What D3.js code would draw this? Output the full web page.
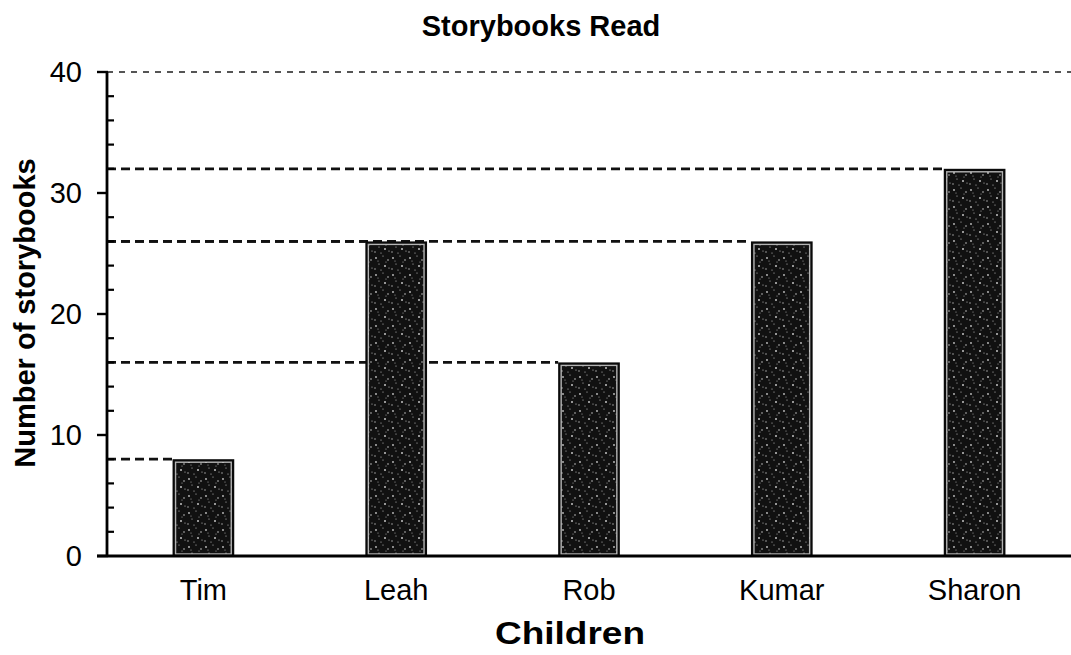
<!DOCTYPE html>
<html>
<head>
<meta charset="utf-8">
<script src="https://cdn.jsdelivr.net/npm/d3@7"></script>
<style>
  html, body { margin: 0; padding: 0; background: #fff; }
  svg { display: block; font-family: "Liberation Sans", Arial, sans-serif; }
</style>
</head>
<body>
<svg id="chart" width="1071" height="655"></svg>
<script>
// ---- data ----
const categories = ["Tim", "Leah", "Rob", "Kumar", "Sharon"];
const values = [8, 26, 16, 26, 32];
const yTicks = [0, 10, 20, 30, 40];
const yMinorTicks = [2, 4, 6, 8, 12, 14, 16, 18, 22, 24, 26, 28, 32, 34, 36, 38];
const titleText = "Storybooks Read";
const xTitle = "Children";
const yTitle = "Number of storybooks";

// ---- layout ----
const svg = d3.select("#chart");
const axisX = 107, axisY0 = 556, axisYTop = 72, rightEdge = 1071;

const x = d3.scaleBand().domain(categories).range([axisX, rightEdge]).padding(0);
const y = d3.scaleLinear().domain([0, 40]).range([axisY0, axisYTop]);
const barW = x.bandwidth() * 0.32;

// speckle pattern
const defs = svg.append("defs");
const pat = defs.append("pattern").attr("id", "speckle")
  .attr("patternUnits", "userSpaceOnUse").attr("width", 17).attr("height", 17);
pat.append("rect").attr("width", 17).attr("height", 17).attr("fill", "#111");
const dots = [[2,3,0.9],[9,1,0.6],[14,5,0.8],[5,9,0.6],[11,11,1.0],[1,14,0.7],[7,15,0.6],[15,13,0.6],[12,7,0.5],[4,6,0.5]];
pat.selectAll("circle").data(dots).join("circle")
  .attr("cx", d => d[0]).attr("cy", d => d[1]).attr("r", d => d[2])
  .attr("fill", "#fff").attr("opacity", 0.75);

// top gridline at 40 (faint, dotted)
svg.append("line")
  .attr("x1", axisX).attr("x2", rightEdge)
  .attr("y1", y(40)).attr("y2", y(40))
  .attr("stroke", "#555").attr("stroke-width", 1.8)
  .attr("stroke-dasharray", "6,6");

// reference dashed lines from axis to each bar's left edge (behind bars)
svg.append("g").selectAll("line").data(categories).join("line")
  .attr("x1", axisX)
  .attr("x2", (d) => x(d) + x.bandwidth() / 2 - barW / 2)
  .attr("y1", (d, i) => y(values[i]))
  .attr("y2", (d, i) => y(values[i]))
  .attr("stroke", "#111").attr("stroke-width", 2.8)
  .attr("stroke-dasharray", "9,5");

// bars
const bars = svg.append("g").selectAll("g").data(categories).join("g");
bars.append("rect")
  .attr("x", d => x(d) + x.bandwidth() / 2 - barW / 2)
  .attr("y", (d, i) => y(values[i]))
  .attr("width", barW)
  .attr("height", (d, i) => y(0) - y(values[i]))
  .attr("fill", "#0a0a0a");
bars.append("rect")
  .attr("x", d => x(d) + x.bandwidth() / 2 - barW / 2 + 3)
  .attr("y", (d, i) => y(values[i]) + 3)
  .attr("width", barW - 6)
  .attr("height", (d, i) => Math.max(0, y(0) - y(values[i]) - 5))
  .attr("fill", "url(#speckle)")
  .attr("stroke", "#ddd").attr("stroke-width", 1.4).attr("stroke-opacity", 0.8);

// y axis line
svg.append("line")
  .attr("x1", axisX).attr("x2", axisX)
  .attr("y1", y(40)).attr("y2", y(0))
  .attr("stroke", "#000").attr("stroke-width", 2.8);

// major ticks (outward)
svg.append("g").selectAll("line").data(yTicks).join("line")
  .attr("x1", axisX - 10).attr("x2", axisX + 1)
  .attr("y1", d => y(d)).attr("y2", d => y(d))
  .attr("stroke", "#000").attr("stroke-width", 2.4);
// minor ticks (inward)
svg.append("g").selectAll("line").data(yMinorTicks).join("line")
  .attr("x1", axisX).attr("x2", axisX + 7)
  .attr("y1", d => y(d)).attr("y2", d => y(d))
  .attr("stroke", "#000").attr("stroke-width", 2.2);

// y tick labels
svg.append("g").selectAll("text").data(yTicks).join("text")
  .attr("x", 82).attr("y", d => y(d))
  .attr("dy", "0.36em")
  .attr("text-anchor", "end")
  .attr("font-size", 29)
  .attr("fill", "#000")
  .text(d => d);

// x axis line
svg.append("line")
  .attr("x1", axisX - 10).attr("x2", rightEdge)
  .attr("y1", y(0)).attr("y2", y(0))
  .attr("stroke", "#000").attr("stroke-width", 2.8);

// category labels
svg.append("g").selectAll("text").data(categories).join("text")
  .attr("x", d => x(d) + x.bandwidth() / 2)
  .attr("y", 600)
  .attr("text-anchor", "middle")
  .attr("font-size", 29)
  .attr("fill", "#000")
  .text(d => d);

// title
svg.append("text")
  .attr("x", 541).attr("y", 36)
  .attr("text-anchor", "middle")
  .attr("font-size", 29).attr("font-weight", "bold")
  .text(titleText);

// x title
svg.append("text")
  .attr("x", 570).attr("y", 644)
  .attr("text-anchor", "middle")
  .attr("font-size", 31).attr("font-weight", "bold")
  .attr("textLength", 150).attr("lengthAdjust", "spacingAndGlyphs")
  .text(xTitle);

// y title
svg.append("text")
  .attr("transform", "translate(35,313) rotate(-90)")
  .attr("text-anchor", "middle")
  .attr("font-size", 29).attr("font-weight", "bold")
  .text(yTitle);
</script>
</body>
</html>
